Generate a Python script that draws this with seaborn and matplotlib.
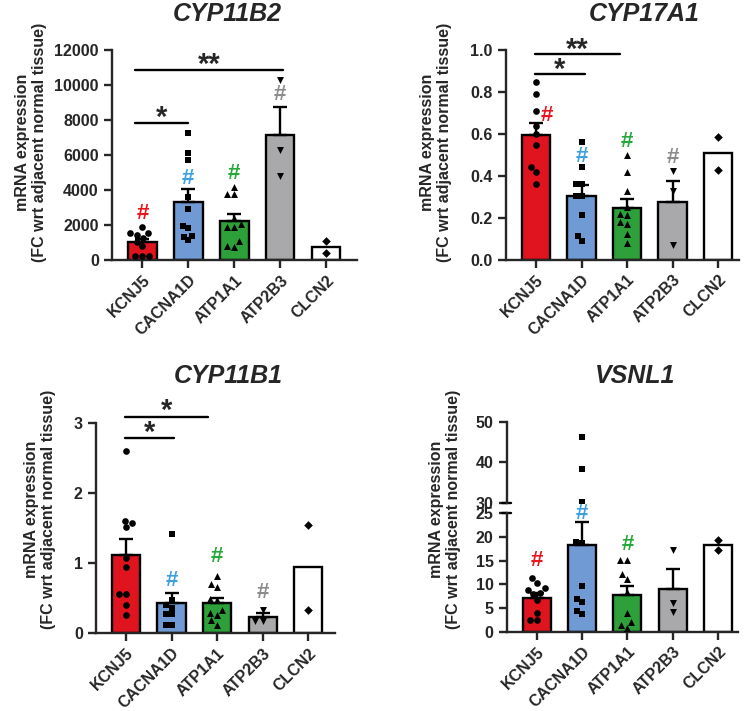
import numpy as np
import pandas as pd
import matplotlib
matplotlib.use("Agg")
import matplotlib.pyplot as plt
import seaborn as sns

sns.set_style("ticks")
plt.rcParams['font.family'] = ['Liberation Sans', 'DejaVu Sans']
plt.rcParams['font.weight'] = 'bold'
plt.rcParams['axes.linewidth'] = 1.7

genes = ["KCNJ5", "CACNA1D", "ATP1A1", "ATP2B3", "CLCN2"]
bar_colors = ["#E0141E", "#6F9AD3", "#2EA03A", "#A9A9AB", "#FFFFFF"]
hash_colors = ["#E8141E", "#3FA0E0", "#27A83A", "#8C8C8C"]
markers = ["o", "s", "^", "v", "D"]
marker_sizes = [4.8, 4.0, 5.0, 5.0, 4.4]

# CYP11B2
cyp11b2_kcnj5 = [1905, 1524, 1524, 1430, 1238, 1048, 800, 229, 229, 229]
cyp11b2_cacna1d = [7240, 6134, 5715, 3620, 2915, 1962, 1848, 1390, 1333, 1143]
cyp11b2_atp1a1 = [4190, 3753, 3753, 2381, 2057, 1905, 1867, 1067, 819, 762]
cyp11b2_atp2b3 = [10287, 6287, 4800]
cyp11b2_clcn2 = [1105, 419]

# CYP17A1
cyp17a1_kcnj5 = [0.849, 0.790, 0.710, 0.638, 0.598, 0.548, 0.440, 0.417, 0.360]
cyp17a1_cacna1d = [0.559, 0.440, 0.362, 0.362, 0.302, 0.302, 0.211, 0.111, 0.090]
cyp17a1_atp1a1 = [0.5, 0.416, 0.329, 0.251, 0.219, 0.211, 0.178, 0.170, 0.122, 0.079]
cyp17a1_atp2b3 = [0.421, 0.325, 0.071]
cyp17a1_clcn2 = [0.587, 0.429]

# CYP11B1
cyp11b1_kcnj5 = [2.609, 1.605, 1.567, 1.51, 1.08, 0.946, 0.564, 0.564, 0.397, 0.253]
cyp11b1_cacna1d = [1.414, 0.468, 0.4, 0.363, 0.277, 0.277, 0.11, 0.11]
cyp11b1_atp1a1 = [0.817, 0.707, 0.659, 0.487, 0.478, 0.334, 0.287, 0.258, 0.182, 0.119]
cyp11b1_atp2b3 = [0.334, 0.172, 0.172]
cyp11b1_clcn2 = [1.543, 0.334]

# VSNL1
vsnl1_kcnj5 = [11.4, 10.35, 9.15, 8.8, 8.1, 7.9, 6.69, 3.87, 2.46, 2.46]
vsnl1_cacna1d = [46.2, 38.4, 30.2, 19.0, 18.8, 9.65, 6.83, 6.34, 4.37, 3.66]
vsnl1_atp1a1 = [15.1, 15.1, 12.1, 11.1, 8.45, 3.87, 1.97, 1.41, 0.7]
vsnl1_atp2b3 = [17.25, 5.99, 4.08]
vsnl1_clcn2 = [19.37, 17.25]

# '#' marks (y per gene, None = no mark)
cyp11b2_hash = [2667, 4667, 4953, 9430]
cyp17a1_hash = [0.686, 0.492, 0.563, 0.489]
cyp11b1_hash = [None, 0.755, 1.09, 0.573]
vsnl1_hash = [15.0, 25.0, 18.5, None]


def long_df(groups):
    return pd.DataFrame({
        "gene": np.repeat(genes, [len(g) for g in groups]),
        "val": np.concatenate(groups)})


def px_axes(fig, l, t, r, b):
    return fig.add_axes([l / 752, 1 - b / 711, (r - l) / 752, (b - t) / 711])


def draw_bars(ax, df):
    sns.barplot(data=df, x="gene", y="val", order=genes, hue="gene",
                hue_order=genes, palette=bar_colors, saturation=1,
                errorbar=None, width=0.62, edgecolor="black", linewidth=1.7,
                legend=False, ax=ax, zorder=1)
    stats = df.groupby("gene")["val"].agg(["mean", "sem", "count"]).reindex(genes)
    for i, g in enumerate(genes):
        if stats.loc[g, "count"] < 3:
            continue
        ax.errorbar(i, stats.loc[g, "mean"], yerr=[[0], [stats.loc[g, "sem"]]],
                    fmt="none", ecolor="black", elinewidth=1.7, capsize=5,
                    capthick=1.7, zorder=2)


def draw_points(ax, df):
    for g, m, s in zip(genes, markers, marker_sizes):
        sub = df[df.gene == g]
        if len(sub) == 0:
            continue
        sns.swarmplot(data=sub, x="gene", y="val", order=genes, color="black",
                      marker=m, size=s, linewidth=0, ax=ax, zorder=4)


def style_ax(ax, xlim, show_x=True):
    ax.set_xlim(*xlim)
    ax.set_xlabel("")
    ax.set_ylabel("")
    ax.tick_params(axis="both", width=1.7, length=6, labelsize=11.5)
    ax.tick_params(axis="x", pad=3)
    sns.despine(ax=ax)
    if show_x:
        ax.set_xticks(range(len(genes)))
        ax.set_xticklabels(genes, rotation=45, ha="right", va="top",
                           rotation_mode="anchor")
    else:
        ax.spines["bottom"].set_visible(False)
        ax.set_xticks([])


def draw_hash(ax, ys, dx=None):
    for i, y in enumerate(ys):
        if y is None:
            continue
        off = 0 if dx is None else dx[i]
        ax.text(i + off, y, "#", color=hash_colors[i], fontsize=16,
                fontweight="bold", ha="center", va="center", zorder=5,
                clip_on=False)


def bracket(ax, x1, x2, y, label, ytext):
    ax.plot([x1, x2], [y, y], color="black", lw=1.7, clip_on=False, zorder=5)
    ax.text((x1 + x2) / 2, ytext, label, fontsize=21, ha="center", va="center",
            clip_on=False)


ylab = "mRNA expression\n(FC wrt adjacent normal tissue)"

fig = plt.figure(figsize=(7.52, 7.11), dpi=100)

# ---- CYP11B2
ax1 = px_axes(fig, 112, 50, 357, 260)
d1 = long_df([cyp11b2_kcnj5, cyp11b2_cacna1d, cyp11b2_atp1a1, cyp11b2_atp2b3, cyp11b2_clcn2])
draw_bars(ax1, d1)
draw_points(ax1, d1)
ax1.set_ylim(0, 12000)
ax1.set_yticks(np.arange(0, 12001, 2000))
style_ax(ax1, (-0.66, 4.67))
draw_hash(ax1, cyp11b2_hash)
bracket(ax1, -0.15, 1.0, 7810, "*", 8100)
bracket(ax1, -0.15, 3.05, 10860, "**", 11150)
fig.text(227 / 752, 1 - 14 / 711, "CYP11B2", fontsize=18, style="italic",
         ha="center", va="center")
fig.text(31 / 752, 1 - 142 / 711, ylab, fontsize=11.5, rotation=90,
         ha="center", va="center", linespacing=1.1)

# ---- CYP17A1
ax2 = px_axes(fig, 506, 50, 739, 259.5)
d2 = long_df([cyp17a1_kcnj5, cyp17a1_cacna1d, cyp17a1_atp1a1, cyp17a1_atp2b3, cyp17a1_clcn2])
draw_bars(ax2, d2)
draw_points(ax2, d2)
ax2.set_ylim(0, 1.0)
ax2.set_yticks(np.arange(0, 1.01, 0.2))
ax2.yaxis.set_major_formatter(matplotlib.ticker.FormatStrFormatter("%.1f"))
style_ax(ax2, (-0.66, 4.46))
draw_hash(ax2, cyp17a1_hash, dx=[0.24, 0, 0, 0])
bracket(ax2, -0.03, 1.07, 0.886, "*", 0.905)
bracket(ax2, -0.03, 1.85, 0.981, "**", 1.0)
fig.text(644 / 752, 1 - 14 / 711, "CYP17A1", fontsize=18, style="italic",
         ha="center", va="center")
fig.text(436 / 752, 1 - 142 / 711, ylab, fontsize=11.5, rotation=90,
         ha="center", va="center", linespacing=1.1)

# ---- CYP11B1
ax3 = px_axes(fig, 96, 423.3, 335, 633)
d3 = long_df([cyp11b1_kcnj5, cyp11b1_cacna1d, cyp11b1_atp1a1, cyp11b1_atp2b3, cyp11b1_clcn2])
draw_bars(ax3, d3)
draw_points(ax3, d3)
ax3.set_ylim(0, 3)
ax3.set_yticks([0, 1, 2, 3])
style_ax(ax3, (-0.66, 4.59))
draw_hash(ax3, cyp11b1_hash)
bracket(ax3, -0.03, 1.06, 2.786, "*", 2.86)
bracket(ax3, -0.03, 1.81, 3.096, "*", 3.17)
fig.text(228 / 752, 1 - 376 / 711, "CYP11B1", fontsize=18, style="italic",
         ha="center", va="center")
fig.text(40 / 752, 1 - 509 / 711, ylab, fontsize=11.5, rotation=90,
         ha="center", va="center", linespacing=1.1)

# ---- VSNL1 (broken y axis)
d4 = long_df([vsnl1_kcnj5, vsnl1_cacna1d, vsnl1_atp1a1, vsnl1_atp2b3, vsnl1_clcn2])
ax4t = px_axes(fig, 506.7, 422, 738, 502.7)
ax4 = px_axes(fig, 506.7, 513.3, 738, 631.7)
draw_bars(ax4, d4)
draw_points(ax4, d4[d4.val <= 25])
draw_points(ax4t, d4[d4.val > 25])
ax4.set_ylim(0, 25)
ax4.set_yticks(np.arange(0, 26, 5))
ax4t.set_ylim(30, 50)
ax4t.set_yticks([30, 40, 50])
style_ax(ax4, (-0.66, 4.44))
style_ax(ax4t, (-0.66, 4.44), show_x=False)
ax4.plot([-0.02, 0.02], [1, 1], color="black", lw=1.7, transform=ax4.transAxes,
         clip_on=False)
ax4t.plot([-0.02, 0.02], [0, 0], color="black", lw=1.7, transform=ax4t.transAxes,
          clip_on=False)
draw_hash(ax4, vsnl1_hash)
fig.text(635 / 752, 1 - 376 / 711, "VSNL1", fontsize=18, style="italic",
         ha="center", va="center")
fig.text(445 / 752, 1 - 509 / 711, ylab, fontsize=11.5, rotation=90,
         ha="center", va="center", linespacing=1.1)

plt.savefig("out.png", dpi=100)
